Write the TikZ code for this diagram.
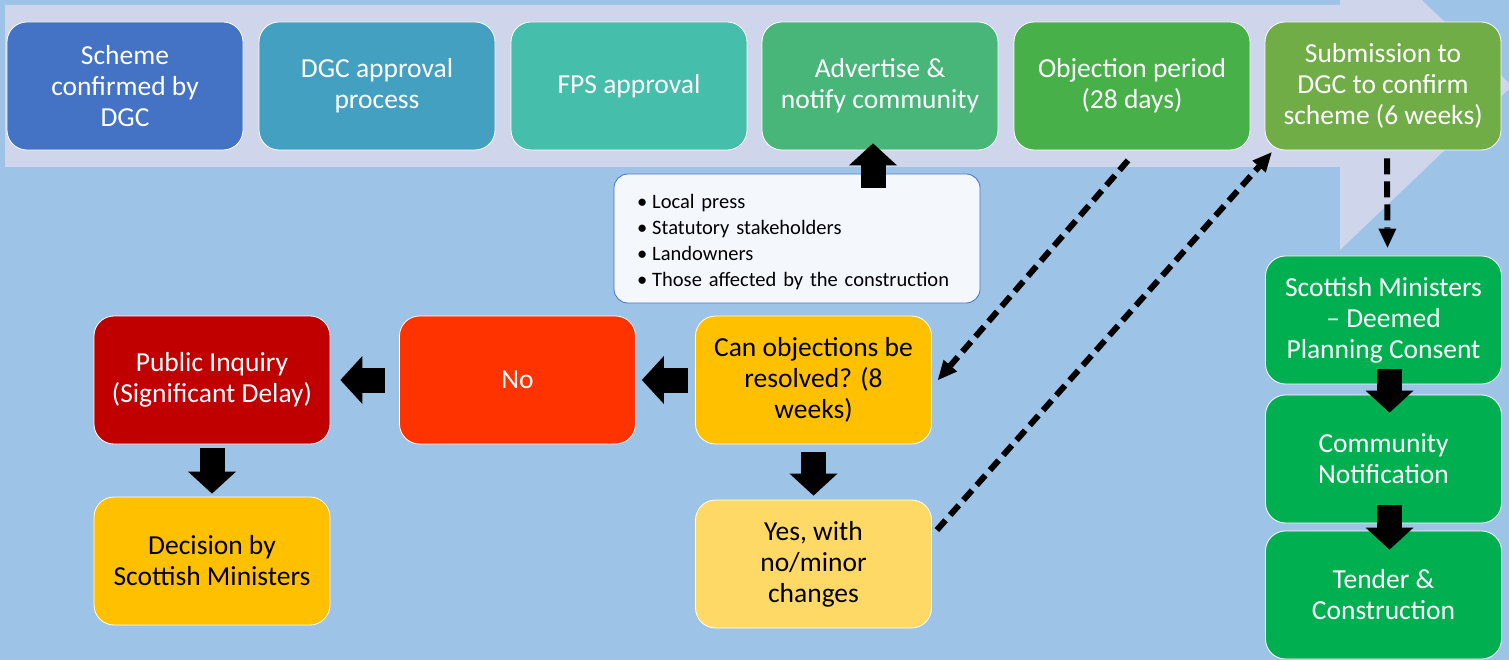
\documentclass[tikz,border=0pt]{standalone}
\usepackage{fontspec}
\setmainfont{Carlito}
\usetikzlibrary{arrows.meta, positioning}

\definecolor{bgblue}{HTML}{9DC3E6}
\definecolor{bandfill}{HTML}{CFD5EA}
\definecolor{stepA}{HTML}{4472C4}
\definecolor{stepB}{HTML}{43A0C1}
\definecolor{stepC}{HTML}{45BEAB}
\definecolor{stepD}{HTML}{47B678}
\definecolor{stepE}{HTML}{47B049}
\definecolor{stepF}{HTML}{70AD47}
\definecolor{inquiryred}{HTML}{C00000}
\definecolor{refusedred}{HTML}{FF3300}
\definecolor{amber}{HTML}{FFC000}
\definecolor{paleamber}{HTML}{FFD966}
\definecolor{consentgreen}{HTML}{00B050}
\definecolor{notefill}{HTML}{F4F7FC}
\definecolor{noteline}{HTML}{4472C4}

\begin{document}
\begin{tikzpicture}[x=1pt, y=-1pt,
    stage/.style={rectangle, rounded corners=20pt, minimum width=236pt, minimum height=128pt, text centered, align=center, draw=white, line width=0.8pt, text=white, font=\fontsize{27.5}{31}\selectfont},
    note/.style={rectangle, rounded corners=14pt, draw=noteline, fill=notefill, line width=0.8pt, minimum width=366pt, minimum height=129pt, text width=320pt, align=left, font=\fontsize{20.5}{26}\selectfont},
    bigarrow/.style={line width=25pt, -{Triangle[width=48pt, length=22pt, line width=0pt]}},
    feedback/.style={line width=6pt, dash pattern=on 13pt off 7pt, -{Triangle[width=18pt, length=19pt, line width=0pt]}}
]

    % Background and process band
    \useasboundingbox (0,0) rectangle (1509,660);
    \fill[bgblue] (0,0) rectangle (1509,660);
    \begin{scope}
        \clip (0,0) rectangle (1509,660);
        \fill[bandfill] (5,5) -- (1340,5) -- (1340,-78) -- (1512,86) -- (1340,250) -- (1340,167) -- (5,167) -- cycle;
    \end{scope}

    % Process steps
    \node[stage, fill=stepA] (confirmed) at (125,86) {Scheme\\confirmed by\\DGC};
    \node[stage, fill=stepB] (approval) at (377,86) {DGC approval\\process};
    \node[stage, fill=stepC] (fps) at (629,86) {FPS approval};
    \node[stage, fill=stepD] (advertise) at (880,86) {Advertise \&\\notify community};
    \node[stage, fill=stepE] (objection) at (1132,86) {Objection period\\(28 days)};
    \node[stage, fill=stepF] (submission) at (1383,86) {Submission to\\DGC to confirm\\scheme (6 weeks)};

    % Who gets notified
    \node[note] (notify) at (797,238.5) {\rule{0pt}{21pt}\textbullet\hspace{5pt}Local press\\
        \textbullet\hspace{5pt}Statutory stakeholders\\
        \textbullet\hspace{5pt}Landowners\\
        \textbullet\hspace{5pt}Those affected by the construction};

    % Objections
    \node[stage, fill=inquiryred] (inquiry) at (212,380) {Public Inquiry\\(Significant Delay)};
    \node[stage, fill=refusedred] (no) at (517.5,380) {No};
    \node[stage, fill=amber, text=black] (resolve) at (813.5,380) {Can objections be\\resolved? (8\\weeks)};
    \node[stage, fill=paleamber, text=black] (yes) at (813.5,564) {Yes, with\\no/minor\\changes};
    \node[stage, fill=amber, text=black] (decision) at (212,561) {Decision by\\Scottish Ministers};

    % Consent and construction
    \node[stage, fill=consentgreen] (deemed) at (1383.5,320) {Scottish Ministers\\– Deemed\\Planning Consent};
    \node[stage, fill=consentgreen] (community) at (1383.5,459) {Community\\Notification};
    \node[stage, fill=consentgreen] (tender) at (1383.5,595) {Tender \&\\Construction};

    % Block arrows
    \draw[bigarrow] ([xshift=-7pt,yshift=-14pt]notify.north -| advertise.south) -- ([xshift=-7pt,yshift=7pt]advertise.south);
    \draw[bigarrow] ([xshift=-7pt]resolve.west) -- ([xshift=6pt]no.east);
    \draw[bigarrow] ([xshift=-14pt]no.west) -- ([xshift=10pt]inquiry.east);
    \draw[bigarrow] ([yshift=-4pt]inquiry.south) -- ([yshift=3pt]decision.north);
    \draw[bigarrow] ([yshift=-8pt]resolve.south) -- ([yshift=4pt]yes.north);
    \draw[bigarrow] ([xshift=6pt,yshift=15pt]deemed.south) -- ([xshift=6pt,yshift=-18pt]community.north);
    \draw[bigarrow] ([xshift=6pt,yshift=18pt]community.south) -- ([xshift=6pt,yshift=-19pt]tender.north);

    % Dashed links
    \draw[feedback] ([xshift=-4pt,yshift=-10pt]objection.south) -- ([xshift=6pt]resolve.east);
    \draw[feedback] ([xshift=5pt,yshift=34pt]yes.east) -- ([xshift=7pt,yshift=-2pt]submission.south west);
    \draw[feedback, dash pattern=on 16pt off 7pt] ([xshift=4pt,yshift=-8pt]submission.south) -- ([xshift=4pt,yshift=8pt]deemed.north);

\end{tikzpicture}
\end{document}
